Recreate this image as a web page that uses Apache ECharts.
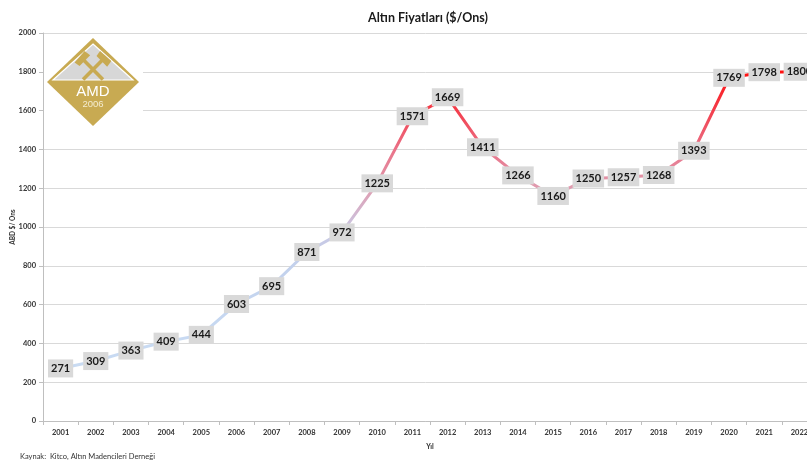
<!DOCTYPE html>
<html>
<head>
<meta charset="utf-8">
<title>Altın Fiyatları ($/Ons)</title>
<script src="https://cdn.jsdelivr.net/npm/echarts@6/dist/echarts.min.js"></script>
<style>
  html, body { margin: 0; padding: 0; background: #ffffff; }
  #chart { width: 807px; height: 466px; }
</style>
</head>
<body>
<div id="chart"></div>
<script>
// Yearly average gold price, USD per troy ounce
const years = ['2001','2002','2003','2004','2005','2006','2007','2008','2009','2010','2011',
               '2012','2013','2014','2015','2016','2017','2018','2019','2020','2021','2022'];
const prices = [271, 309, 363, 409, 444, 603, 695, 871, 972, 1225, 1571,
                1669, 1411, 1266, 1160, 1250, 1257, 1268, 1393, 1769, 1798, 1800];
const yTicks = { min: 0, max: 2000, step: 200 };

const titleText = 'Altın Fiyatları ($/Ons)';
const yName = 'ABD $/ Ons';
const xName = 'Yıl';
const sourceText = 'Kaynak:  Kitco, Altın Madencileri Derneği';

const FONT = 'Lato, "Liberation Sans", sans-serif';
const GOLD = '#c8aa52';

const chart = echarts.init(document.getElementById('chart'), null, { renderer: 'canvas' });

// AMD badge: diamond with grey peak, crossed hammers and lettering
function hammer(rot) {
  return {
    type: 'group', x: 93, y: 69.5, rotation: rot, z: 11,
    children: [
      { type: 'rect', shape: { x: -1.8, y: -14, width: 3.6, height: 28 }, style: { fill: GOLD }, z: 11 },
      { type: 'polygon', shape: { points: [[-8, -18], [7, -19], [8, -12], [-7, -12]] }, style: { fill: GOLD }, z: 11 }
    ]
  };
}

const badge = [
  { type: 'rect', shape: { x: 44, y: 35, width: 99, height: 94 }, style: { fill: '#ffffff' }, z: 10 },
  { type: 'polygon', shape: { points: [[93, 38], [139, 82], [93, 126], [47, 82]] }, style: { fill: GOLD }, z: 11 },
  { type: 'polygon', shape: { points: [[93, 44], [133, 80], [53, 80]] },
    style: { fill: '#d7d7d7', stroke: '#ffffff', lineWidth: 1.2 }, z: 11 },
  hammer(Math.PI / 4),
  hammer(-Math.PI / 4),
  { type: 'text', x: 93, y: 92, z: 12,
    style: { text: 'AMD', fill: '#ffffff', font: '15px "Liberation Sans", Arial, sans-serif', align: 'center', verticalAlign: 'middle' } },
  { type: 'text', x: 93, y: 104.5, z: 12,
    style: { text: '2006', fill: '#f4ecd0', font: '9.5px "Liberation Sans", Arial, sans-serif', align: 'center', verticalAlign: 'middle' } }
];

const option = {
  backgroundColor: '#ffffff',
  animation: false,
  title: {
    text: titleText,
    left: 423, top: 6, textAlign: 'center',
    textStyle: { fontFamily: FONT, fontSize: 12.5, fontWeight: 'bold', color: '#1a1a1a' }
  },
  grid: { left: 43, top: 33, width: 774, height: 388, containLabel: false, outerBoundsMode: 'none' },
  xAxis: {
    type: 'category',
    data: years,
    boundaryGap: true,
    name: xName,
    nameLocation: 'middle',
    nameGap: 22,
    nameTextStyle: { fontFamily: FONT, fontSize: 7, fontWeight: 'bold', color: '#333' },
    axisLine: { lineStyle: { color: '#bfbfbf', width: 1 } },
    axisTick: { show: true, length: 4, lineStyle: { color: '#bfbfbf' } },
    axisLabel: { margin: 8, fontFamily: FONT, fontSize: 7.5, fontWeight: 'bold', color: '#333' },
    splitLine: { show: false }
  },
  yAxis: {
    type: 'value',
    min: yTicks.min, max: yTicks.max, interval: yTicks.step,
    name: yName,
    nameLocation: 'middle',
    nameGap: 27,
    nameRotate: 90,
    nameMoveOverlap: false,
    nameTextStyle: { fontFamily: FONT, fontSize: 6.5, fontWeight: 'bold', color: '#333' },
    axisLine: { show: true, lineStyle: { color: '#bfbfbf', width: 1 } },
    axisTick: { show: true, length: 4, lineStyle: { color: '#bfbfbf' } },
    axisLabel: { margin: 7, fontFamily: FONT, fontSize: 7.5, fontWeight: 'bold', color: '#333',
                 formatter: (v) => String(v) },
    splitLine: { show: true, lineStyle: { color: '#d9d9d9', width: 1 } }
  },
  visualMap: {
    type: 'continuous',
    show: false,
    seriesIndex: 0,
    dimension: 1,
    min: 200, max: 1800,
    inRange: {
      color: ['#c9dbf2', '#c8daf2', '#c5d6f0', '#c3d1ec', '#cac6e2', '#e09cb0', '#ea7288', '#f33e4c', '#ff1010']
    }
  },
  series: [{
    type: 'line',
    data: prices,
    symbol: 'circle',
    symbolSize: 2,
    lineStyle: { width: 3 },
    z: 3,
    label: {
      show: true,
      position: 'inside',
      formatter: '{c}',
      fontFamily: FONT,
      fontSize: 11,
      fontWeight: 'bold',
      color: '#1a1a1a',
      backgroundColor: '#d9d9d9',
      padding: [4, 3, 3, 3]
    }
  }],
  graphic: [
    ...badge,
    { type: 'text', left: 20, top: 453,
      style: { text: sourceText, fill: '#333', font: '7.5px ' + FONT } }
  ]
};

chart.setOption(option);
</script>
</body>
</html>
